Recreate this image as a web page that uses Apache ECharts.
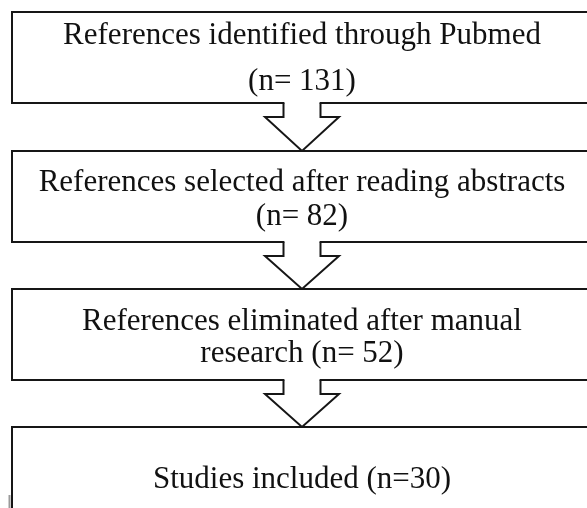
<!DOCTYPE html>
<html>
<head>
<meta charset="utf-8">
<script src="https://cdn.jsdelivr.net/npm/echarts@6/dist/echarts.min.js"></script>
<style>html,body{margin:0;padding:0;background:#fff}#c{width:587px;height:508px}</style>
</head>
<body>
<div id="c"></div>
<script>
// Flow stages (text) and counts
const stageLines = [
  ['References identified through Pubmed', '(n= 131)'],
  ['References selected after reading abstracts', '(n= 82)'],
  ['References eliminated after manual', 'research (n= 52)'],
  ['Studies included (n=30)']
];
const counts = [131, 82, 52, 30];

// layout (pixel space of hidden axes)
const boxLeft = 12, boxRight = 594;
const boxTops = [12, 151, 289, 427];
const boxHeight = 91;
const lineOffsets = [[24, 70], [32, 66], [33, 65], [53]];
const arrowCx = 302, stemHalf = 18.5, headHalf = 37, stemLen = 14;
const FONT = '31px "Liberation Serif", serif';
const STROKE = '#161616';

const chart = echarts.init(document.getElementById('c'), null, {renderer: 'canvas'});

function renderItem(params, api) {
  const i = params.dataIndex;
  const p = (x, y) => api.coord([x, y]);
  const children = [];
  const top = boxTops[i];
  const bottom = i === stageLines.length - 1 ? 620 : top + boxHeight;
  const tl = p(boxLeft, top), br = p(boxRight, bottom);
  children.push({
    type: 'rect',
    shape: {x: tl[0], y: tl[1], width: br[0] - tl[0], height: br[1] - tl[1]},
    style: {fill: '#fff', stroke: STROKE, lineWidth: 2}
  });
  stageLines[i].forEach((t, k) => {
    const c = p(arrowCx, top + lineOffsets[i][k]);
    children.push({
      type: 'text',
      style: {text: t, x: c[0], y: c[1], align: 'center', verticalAlign: 'middle', font: FONT, fill: '#111'}
    });
  });
  if (i < stageLines.length - 1) {
    const y0 = top + boxHeight, y1 = y0 + stemLen, y2 = boxTops[i + 1];
    const pts = [
      p(arrowCx - stemHalf, y0), p(arrowCx - stemHalf, y1), p(arrowCx - headHalf, y1),
      p(arrowCx, y2), p(arrowCx + headHalf, y1), p(arrowCx + stemHalf, y1), p(arrowCx + stemHalf, y0)
    ];
    const fillPts = pts.map(q => q.slice());
    fillPts[0][1] -= 2; fillPts[6][1] -= 2;
    fillPts[0][0] += 1; fillPts[6][0] -= 1;
    children.push({type: 'polygon', shape: {points: fillPts}, style: {fill: '#fff', stroke: null}});
    children.push({type: 'polyline', shape: {points: pts}, style: {fill: null, stroke: STROKE, lineWidth: 2, lineJoin: 'miter'}});
  }
  return {type: 'group', children};
}

chart.setOption({
  animation: false,
  grid: {left: 0, right: 0, top: 0, bottom: 0},
  xAxis: {type: 'value', min: 0, max: 587, show: false},
  yAxis: {type: 'value', min: 0, max: 508, inverse: true, show: false},
  series: [{
    type: 'custom',
    renderItem,
    clip: false,
    data: counts.map((c, i) => [i, c])
  }],
  graphic: [{
    type: 'line', shape: {x1: 9.5, y1: 495, x2: 9.5, y2: 508},
    style: {stroke: '#9a9a9a', lineWidth: 2}
  }]
});
</script>
</body>
</html>
